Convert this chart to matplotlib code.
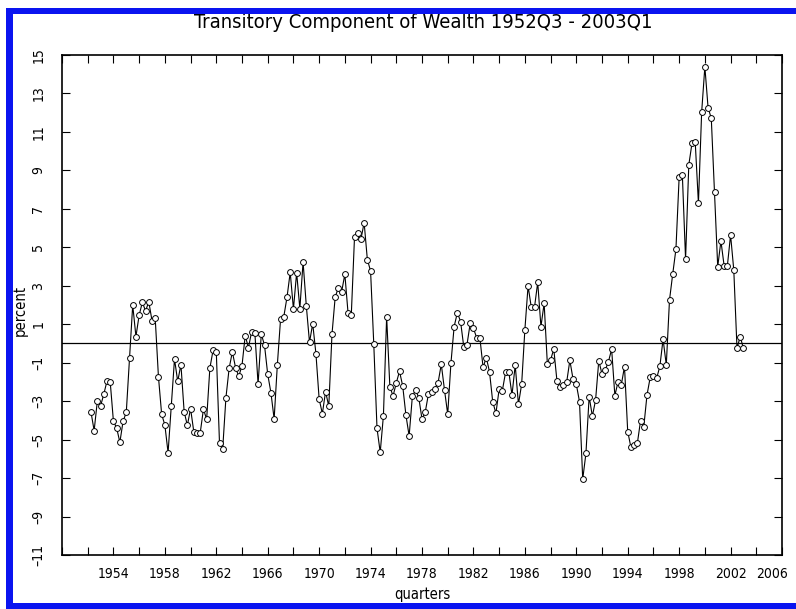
import numpy as np
import matplotlib
matplotlib.use("Agg")
import matplotlib.pyplot as plt
from matplotlib.patches import Rectangle
from matplotlib.transforms import ScaledTranslation

title = "Transitory Component of Wealth 1952Q3 - 2003Q1"
start_year = 1952.25
values = [
    -3.55, -4.53, -2.99, -3.25, -2.64, -1.95, -2.00, -4.05, -4.39, -5.14,
    -4.05, -3.58, -0.77, 2.00, 0.36, 1.47, 2.14, 1.69, 2.17, 1.19,
    1.31, -1.72, -3.68, -4.24, -5.68, -3.25, -0.81, -1.97, -1.10, -3.55,
    -4.26, -3.39, -4.58, -4.65, -4.65, -3.42, -3.94, -1.29, -0.35, -0.42,
    -5.19, -5.47, -2.82, -1.29, -0.44, -1.26, -1.71, -1.15, 0.41, -0.22,
    0.61, 0.55, -2.11, 0.49, -0.09, -1.60, -2.56, -3.93, -1.10, 1.27,
    1.39, 2.40, 3.70, 1.79, 3.68, 1.81, 4.24, 1.97, 0.06, 1.03,
    -0.53, -2.89, -3.65, -2.50, -3.27, 0.49, 2.43, 2.89, 2.69, 3.60,
    1.57, 1.47, 5.52, 5.73, 5.42, 6.28, 4.36, 3.77, -0.04, -4.41,
    -5.66, -3.75, 1.39, -2.25, -2.73, -2.05, -1.45, -2.21, -3.73, -4.81,
    -2.75, -2.42, -2.82, -3.93, -3.58, -2.63, -2.52, -2.35, -2.04, -1.08,
    -2.42, -3.68, -1.03, 0.88, 1.60, 1.14, -0.18, -0.06, 1.05, 0.79,
    0.30, 0.30, -1.24, -0.74, -1.47, -3.03, -3.63, -2.38, -2.45, -1.50,
    -1.47, -2.68, -1.12, -3.16, -2.12, 0.70, 2.99, 1.88, 1.88, 3.18,
    0.87, 2.09, -1.07, -0.86, -0.29, -1.97, -2.25, -2.16, -2.02, -0.88,
    -1.86, -2.11, -3.03, -7.06, -5.72, -2.76, -3.78, -2.95, -0.89, -1.59,
    -1.38, -0.95, -0.30, -2.71, -1.99, -2.16, -1.20, -4.58, -5.40, -5.26,
    -5.19, -4.01, -4.33, -2.68, -1.76, -1.69, -1.81, -1.19, 0.22, -1.12,
    2.26, 3.61, 4.90, 8.64, 8.76, 4.38, 9.28, 10.41, 10.48, 7.29,
    12.02, 14.39, 12.26, 11.71, 7.89, 3.99, 5.33, 4.03, 4.03, 5.64,
    3.82, -0.25, 0.35, -0.25,
]
xtick_years = list(range(1950, 2007, 2))
xtick_labeled = list(range(1954, 2007, 4))
ytick_values = list(range(-11, 16, 2))

plt.rcParams['font.family'] = ['DejaVu Sans']
plt.rcParams['font.stretch'] = 'condensed'

W, H = 796, 609
fig = plt.figure(figsize=(W / 100, H / 100), dpi=100)
fig.patch.set_facecolor('white')
ax = fig.add_axes([62 / W, 1 - 555 / H, (782 - 62) / W, (555 - 55) / H])

x = start_year + 0.25 * np.arange(len(values))
ax.axhline(0, color='black', lw=0.9, zorder=1)
ax.plot(x, values, color='black', lw=0.8, marker='o', ms=4.2,
        mfc='white', mec='black', mew=0.7, zorder=2)

ax.set_xlim(1950, 2006)
ax.set_ylim(-11, 15)
ax.set_xticks(xtick_years)
ax.set_xticklabels([str(y) if y in xtick_labeled else '' for y in xtick_years],
                   fontsize=10)
ax.set_yticks(ytick_values)
ax.set_yticklabels([str(v).replace('-', '\u2013') for v in ytick_values],
                   rotation=90, va='center', fontsize=10)
ax.tick_params(direction='in', length=6, width=0.8, top=True, right=True)
ax.tick_params(axis='x', pad=9)
ax.tick_params(axis='y', pad=12)
for s in ax.spines.values():
    s.set_linewidth(1.2)

# keep the last label inside the canvas
last = ax.get_xticklabels()[-1]
last.set_transform(last.get_transform() + ScaledTranslation(-10 / 100, 0, fig.dpi_scale_trans))

fig.text(423 / W, 1 - 23 / H, title, ha='center', va='center', fontsize=14.5,
         fontweight='light')
fig.text(20 / W, 1 - 310 / H, 'percent', rotation=90, ha='center', va='center',
         fontsize=10.5)
fig.text(422 / W, 1 - 594 / H, 'quarters', ha='center', va='center', fontsize=10.5,
         zorder=1)

blue = '#0a14f0'
for (x0, y0, w, h) in [(6, 8, 7, 601), (6, 8, 790, 6), (6, 603, 790, 6)]:
    fig.add_artist(Rectangle((x0 / W, 1 - (y0 + h) / H), w / W, h / H,
                             transform=fig.transFigure, color=blue, lw=0,
                             zorder=10))

fig.savefig('out.png', dpi=100)
